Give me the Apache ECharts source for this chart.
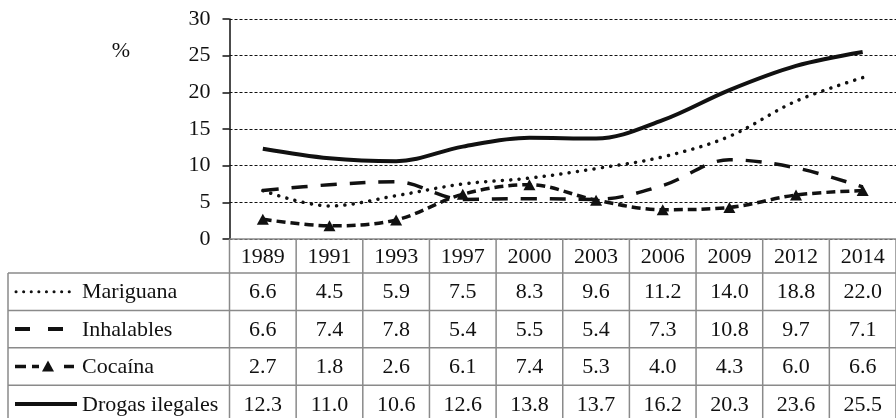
<!DOCTYPE html>
<html>
<head>
<meta charset="utf-8">
<script src="https://cdn.jsdelivr.net/npm/echarts@6/dist/echarts.min.js"></script>
<style>
html,body{margin:0;padding:0;background:#fff;}
#c{width:896px;height:418px;}
</style>
</head>
<body>
<div id="c"></div>
<script>
var years = ['1989','1991','1993','1997','2000','2003','2006','2009','2012','2014'];
var mariguana = [6.6, 4.5, 5.9, 7.5, 8.3, 9.6, 11.2, 14.0, 18.8, 22.0];
var inhalables = [6.6, 7.4, 7.8, 5.4, 5.5, 5.4, 7.3, 10.8, 9.7, 7.1];
var cocaina = [2.7, 1.8, 2.6, 6.1, 7.4, 5.3, 4.0, 4.3, 6.0, 6.6];
var drogas = [12.3, 11.0, 10.6, 12.6, 13.8, 13.7, 16.2, 20.3, 23.6, 25.5];
var seriesNames = ['Mariguana', 'Inhalables', 'Cocaína', 'Drogas ilegales'];
var yTicks = [0, 5, 10, 15, 20, 25, 30];

var FONT = "'Liberation Serif', 'Times New Roman', Times, serif";
var FS = 22;
var INK = '#111';
var TBL = '#8a8a8a';
var SMOOTH = 0.35;

var chart = echarts.init(document.getElementById('c'), null, {renderer: 'canvas'});

chart.setOption({
  animation: false,
  backgroundColor: '#fff',
  textStyle: {fontFamily: FONT},
  grid: {left: 229.5, right: -5.5, top: 19, height: 220, containLabel: false},
  xAxis: {
    type: 'category',
    data: years,
    boundaryGap: true,
    axisLine: {show: true, lineStyle: {color: TBL, width: 1.5}},
    axisTick: {show: false},
    axisLabel: {show: false},
    splitLine: {show: false}
  },
  yAxis: {
    type: 'value',
    min: 0, max: 30, interval: 5,
    axisLine: {show: true, lineStyle: {color: INK, width: 1.5}},
    axisTick: {show: true, inside: false, length: 7, lineStyle: {color: INK, width: 1.5}},
    axisLabel: {
      margin: 19, color: INK, fontFamily: FONT, fontSize: FS,
      formatter: function (v) { return yTicks.indexOf(v) >= 0 ? String(v) : ''; }
    },
    splitLine: {show: true, lineStyle: {color: INK, width: 1, type: [3, 2]}}
  },
  series: [
    {
      name: seriesNames[3], type: 'line', data: drogas, smooth: SMOOTH,
      symbol: 'none', lineStyle: {color: INK, width: 4}, z: 5
    },
    {
      name: seriesNames[0], type: 'line', data: mariguana, smooth: SMOOTH,
      symbol: 'none', lineStyle: {color: INK, width: 3.5, type: [0.1, 8.3], cap: 'round'}, z: 4
    },
    {
      name: seriesNames[1], type: 'line', data: inhalables, smooth: SMOOTH,
      symbol: 'none', lineStyle: {color: INK, width: 3.5, type: [16, 13]}, z: 3
    },
    {
      name: seriesNames[2], type: 'line', data: cocaina, smooth: SMOOTH,
      symbol: 'triangle', symbolSize: [12, 11], showSymbol: true,
      itemStyle: {color: INK},
      lineStyle: {color: INK, width: 3.5, type: [9, 5]}, z: 3
    }
  ]
});

var x0 = chart.convertToPixel({xAxisIndex: 0}, 0);
var x1 = chart.convertToPixel({xAxisIndex: 0}, 1);
var band = x1 - x0;
var zeroY = chart.convertToPixel({yAxisIndex: 0}, 0);
var tableLeft = 8;
var colStart = x0 - band / 2;
var colEnd = colStart + band * years.length;
var headerBottom = 273;
var rowH = 37.4;
var rowTops = [headerBottom, headerBottom + rowH, headerBottom + 2 * rowH, headerBottom + 3 * rowH];
var bottom = 430;
var rowsData = [mariguana, inhalables, cocaina, drogas];
var fontStr = FS + 'px ' + FONT;

var g = [];
function line(xa, ya, xb, yb, style) {
  g.push({type: 'line', shape: {x1: xa, y1: ya, x2: xb, y2: yb}, style: style, z: 10});
}
var gridStyle = {stroke: TBL, lineWidth: 1.5};

rowTops.forEach(function (y) { line(tableLeft, y, colEnd, y, gridStyle); });
line(tableLeft, headerBottom, tableLeft, bottom, gridStyle);
for (var i = 0; i <= years.length; i++) {
  var xv = colStart + band * i;
  line(xv, zeroY, xv, bottom, gridStyle);
}
years.forEach(function (yr, i) {
  var cx = chart.convertToPixel({xAxisIndex: 0}, i);
  g.push({type: 'text', x: cx, y: (zeroY + headerBottom) / 2 + 1, z: 11,
    style: {text: yr, fill: INK, font: fontStr, align: 'center', verticalAlign: 'middle'}});
});
rowsData.forEach(function (arr, r) {
  var cy = rowTops[r] + rowH / 2 + 1;
  arr.forEach(function (v, i) {
    var cx = chart.convertToPixel({xAxisIndex: 0}, i);
    g.push({type: 'text', x: cx, y: cy, z: 11,
      style: {text: v.toFixed(1), fill: INK, font: fontStr, align: 'center', verticalAlign: 'middle'}});
  });
  g.push({type: 'text', x: 82, y: cy, z: 11,
    style: {text: seriesNames[r], fill: INK, font: fontStr, align: 'left', verticalAlign: 'middle'}});
});
var c0 = rowTops[0] + rowH / 2;
var c1 = rowTops[1] + rowH / 2;
var c2 = rowTops[2] + rowH / 2;
var c3 = rowTops[3] + rowH / 2;
line(16, c0, 76, c0, {stroke: INK, lineWidth: 3, lineDash: [0.1, 7.5], lineCap: 'round'});
line(15, c1, 64, c1, {stroke: INK, lineWidth: 4, lineDash: [15, 18]});
line(15, c2, 76, c2, {stroke: INK, lineWidth: 3.5, lineDash: [11, 6, 7, 25, 10, 5, 5, 100]});
g.push({type: 'polygon', z: 12, shape: {points: [[48, c2 - 6], [54, c2 + 5], [42, c2 + 5]]}, style: {fill: INK}});
line(15, c3, 77, c3, {stroke: INK, lineWidth: 4});
g.push({type: 'text', x: 121, y: 51, z: 11,
  style: {text: '%', fill: INK, font: fontStr, align: 'center', verticalAlign: 'middle'}});

chart.setOption({graphic: {elements: g}});
</script>
</body>
</html>
